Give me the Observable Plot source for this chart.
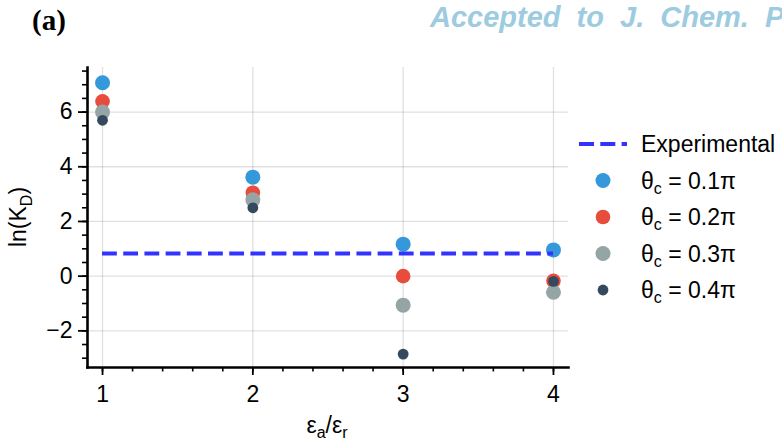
<!DOCTYPE html>
<html><head><meta charset="utf-8">
<script src="https://cdn.jsdelivr.net/npm/d3@7"></script>
<script src="https://cdn.jsdelivr.net/npm/@observablehq/plot@0.6"></script>
<style>html,body{margin:0;padding:0;background:#fff;overflow:hidden}</style>
</head><body><div id="chart"></div>
<script>
// ---- data ----
const ratios = [1, 2, 3, 4];                 // εa/εr
const theta01 = [7.07, 3.62, 1.17, 0.96];    // θc = 0.1π
const theta02 = [6.39, 3.05, 0.00, -0.17];   // θc = 0.2π
const theta03 = [6.00, 2.79, -1.06, -0.59];  // θc = 0.3π
const theta04 = [5.70, 2.50, -2.85, -0.19];  // θc = 0.4π
const experimental = 0.83;
const seriesLabels = ["0.1π", "0.2π", "0.3π", "0.4π"];
const seriesColors = ["#3498db", "#e74c3c", "#95a5a6", "#34495e"];
const seriesRadii = [7.5, 7.3, 7.5, 5.4];
const xMajorTicks = [1, 2, 3, 4];
const yMajorTicks = [-2, 0, 2, 4, 6];
const xMinorTicks = d3.range(1, 4.001, 0.2).map(v => +v.toFixed(1));
const yMinorTicks = d3.range(-3, 7.51, 0.5);

const series = [theta01, theta02, theta03, theta04];
const rows = series.map((vals, i) => ratios.map((r, j) => ({ratio: r, lnKD: vals[j], s: i})));
const expRow = [{y: experimental, x1: d3.min(ratios), x2: d3.max(ratios)}];

const FONT = "'Liberation Sans', Arial, Helvetica, sans-serif";
const FS = 23;
const fmt = d3.format("d");

const plot = Plot.plot({
  width: 782, height: 441,
  marginLeft: 87, marginRight: 214, marginTop: 67, marginBottom: 74,
  style: {fontFamily: FONT, fontSize: FS + "px", color: "#000", background: "#fff", overflow: "hidden"},
  x: {domain: [0.9, 4.1], label: null},
  y: {domain: [-3.34, 7.63], label: null},
  marks: [
    Plot.gridX(xMajorTicks, {stroke: "#000", strokeOpacity: 0.12, strokeWidth: 1.3}),
    Plot.gridY(yMajorTicks, {stroke: "#000", strokeOpacity: 0.12, strokeWidth: 1.3}),
    Plot.axisX(xMinorTicks, {text: null, label: null, tickSize: 4.5, strokeWidth: 1.6}),
    Plot.axisX(xMajorTicks, {label: null, tickSize: 8, tickPadding: 10, strokeWidth: 1.8, fontSize: FS, tickFormat: fmt}),
    Plot.axisY(yMinorTicks, {text: null, label: null, tickSize: 5, strokeWidth: 1.6}),
    Plot.axisY(yMajorTicks, {label: null, tickSize: 9, tickPadding: 6, strokeWidth: 1.8, fontSize: FS, tickFormat: fmt}),
    ...rows.map((data, i) => Plot.dot(data, {x: "ratio", y: "lnKD", r: seriesRadii[i], fill: seriesColors[i], stroke: null})),
    Plot.ruleY(expRow, {y: "y", x1: "x1", x2: "x2", stroke: "#3333ff", strokeWidth: 4, strokeDasharray: "14.8,6.4"}),
    Plot.frame({anchor: "left", strokeWidth: 2.6, strokeLinecap: "square"}),
    Plot.frame({anchor: "bottom", strokeWidth: 2.6, strokeLinecap: "square"})
  ]
});
document.getElementById("chart").appendChild(plot);

// ---- annotations: titles, axis labels, legend ----
const svg = d3.select(plot);
const g = svg.append("g").attr("font-family", FONT).attr("fill", "#000").attr("text-anchor", "start");

g.append("text").attr("x", 32).attr("y", 30)
  .attr("font-family", "'Liberation Serif', 'Times New Roman', serif")
  .attr("font-weight", "bold").attr("font-size", 29).text("(a)");

g.append("text").attr("x", 430).attr("y", 27)
  .attr("font-weight", "bold").attr("font-style", "italic").attr("font-size", 29)
  .attr("word-spacing", 8)
  .attr("fill", "#9dcbe0").text("Accepted to J. Chem. P");

// y label
const yl = g.append("text").attr("transform", "translate(26,217) rotate(-90)")
  .attr("text-anchor", "middle").attr("font-size", FS);
yl.append("tspan").text("ln(K");
yl.append("tspan").attr("font-size", 16).attr("dy", 6).text("D");
yl.append("tspan").attr("dy", -6).text(")");

// x label
const xl = g.append("text").attr("x", 327).attr("y", 433)
  .attr("text-anchor", "middle").attr("font-size", FS);
xl.append("tspan").text("ε");
xl.append("tspan").attr("font-size", 16).attr("dy", 5).text("a");
xl.append("tspan").attr("dy", -5).text("/ε");
xl.append("tspan").attr("font-size", 16).attr("dy", 5).text("r");

// legend
const lg = g.append("g");
const legY0 = 144, legStep = 36.5;
lg.append("line").attr("x1", 579).attr("x2", 627).attr("y1", legY0).attr("y2", legY0)
  .attr("stroke", "#3333ff").attr("stroke-width", 4).attr("stroke-dasharray", "15,6.3");
lg.append("text").attr("x", 641).attr("y", legY0 + 8).attr("font-size", FS).text("Experimental");
seriesLabels.forEach((lab, i) => {
  const cy = legY0 + legStep * (i + 1);
  lg.append("circle").attr("cx", 603).attr("cy", cy).attr("r", seriesRadii[i]).attr("fill", seriesColors[i]);
  const t = lg.append("text").attr("x", 641).attr("y", cy + 8).attr("font-size", FS);
  t.append("tspan").text("θ");
  t.append("tspan").attr("font-size", 16).attr("dy", 5).text("c");
  t.append("tspan").attr("dy", -5).text(" = " + lab);
});
</script>
</body></html>
